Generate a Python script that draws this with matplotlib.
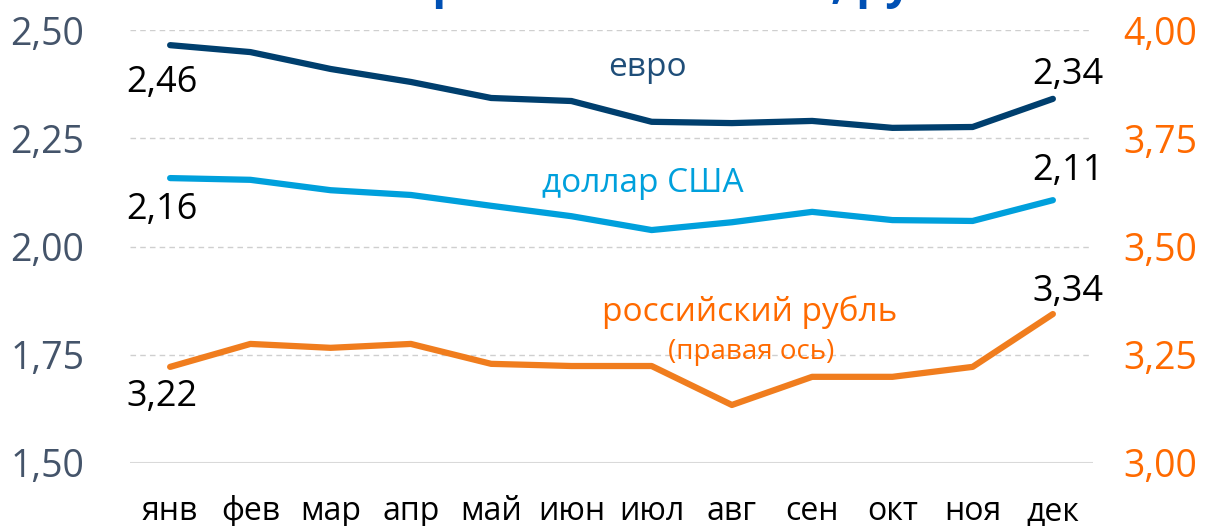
import numpy as np
import matplotlib.pyplot as plt

plt.rcParams['font.family'] = ['Open Sans', 'DejaVu Sans']

# Data
months = ['янв', 'фев', 'мар', 'апр', 'май', 'июн',
          'июл', 'авг', 'сен', 'окт', 'ноя', 'дек']
eur = [2.465, 2.449, 2.410, 2.380, 2.343, 2.336,
       2.288, 2.285, 2.290, 2.274, 2.276, 2.341]
usd = [2.158, 2.154, 2.130, 2.119, 2.094, 2.070,
       2.038, 2.056, 2.080, 2.061, 2.059, 2.107]
rub = [3.222, 3.275, 3.266, 3.275, 3.229, 3.224,
       3.224, 3.134, 3.199, 3.199, 3.222, 3.344]
left_ticks = [1.50, 1.75, 2.00, 2.25, 2.50]
right_ticks = [3.00, 3.25, 3.50, 3.75, 4.00]

C_EUR = '#003f6e'
C_USD = '#00a0dc'
C_RUB = '#f07d1e'
C_RUB_TXT = '#ff6a00'
C_LTICK = '#44546a'

fmt = lambda v: f'{v:.2f}'.replace('.', ',')

fig = plt.figure(figsize=(12.07, 5.26), dpi=100)
ax = fig.add_axes([130 / 1207, 1 - 463 / 526, 963 / 1207, 433 / 526])
ax2 = ax.twinx()

x = np.arange(len(months))
ax.plot(x, eur, color=C_EUR, lw=4.5, solid_capstyle='round', zorder=3)
ax.plot(x, usd, color=C_USD, lw=4.5, solid_capstyle='round', zorder=3)
ax2.plot(x, rub, color=C_RUB, lw=4.5, solid_capstyle='round', zorder=3)

ax.set_xlim(-0.5, 11.5)
ax.set_ylim(1.50, 2.50)
ax2.set_ylim(3.00, 4.00)

# grid
for v in left_ticks:
    if v == 1.50:
        ax.axhline(v, color='#d9d9d9', lw=1.5, zorder=1)
    else:
        ax.axhline(v, color='#cfcfcf', lw=1.0, ls=(0, (4, 3)), zorder=1)

ax.set_yticks(left_ticks)
ax.set_yticklabels([fmt(v) for v in left_ticks], fontsize=27, color=C_LTICK)
ax2.set_yticks(right_ticks)
ax2.set_yticklabels([fmt(v) for v in right_ticks], fontsize=27, color=C_RUB_TXT)
ax.set_xticks(x)
ax.set_xticklabels(months, fontsize=23, color='black')
ax.tick_params(axis='both', length=0)
ax.tick_params(axis='y', pad=33)
ax.tick_params(axis='x', pad=23)
ax2.tick_params(axis='y', length=0, pad=22)
for a in (ax, ax2):
    for s in a.spines.values():
        s.set_visible(False)

# value labels
lab = dict(fontsize=26, color='black', ha='center', va='center', zorder=4)
ax.annotate(fmt(round(eur[0], 2)), (0, eur[0]), xytext=(-6, -27), textcoords='offset points', **lab)
ax.annotate(fmt(round(usd[0], 2)), (0, usd[0]), xytext=(-6, -23), textcoords='offset points', **lab)
ax2.annotate(fmt(round(rub[0], 2)), (0, rub[0]), xytext=(-6, -22), textcoords='offset points', **lab)
ax.annotate(fmt(round(eur[-1], 2)), (11, eur[-1]), xytext=(11, 17), textcoords='offset points', **lab)
ax.annotate(fmt(round(usd[-1], 2)), (11, usd[-1]), xytext=(11, 21), textcoords='offset points', **lab)
ax2.annotate(fmt(round(rub[-1], 2)), (11, rub[-1]), xytext=(11, 16), textcoords='offset points', **lab)

# series labels
fig.text(647 / 1207, 1 - 68 / 526, 'евро', fontsize=24, color='#1f4e79', ha='center', va='center')
fig.text(643 / 1207, 1 - 183 / 526, 'доллар США', fontsize=24, color=C_USD, ha='center', va='center')
fig.text(750 / 1207, 1 - 312 / 526, 'российский рубль', fontsize=24, color=C_RUB_TXT, ha='center', va='center')
fig.text(751 / 1207, 1 - 352 / 526, '(правая ось)', fontsize=20, color=C_RUB_TXT, ha='center', va='center')

# title, cut off by the top edge
fig.text(678 / 1207, 1 + 2 / 526, 'Сравнение валют, руб.', fontsize=33, fontweight='bold',
         color='#0050b4', ha='center', va='baseline')

fig.savefig('out.png', dpi=100)
